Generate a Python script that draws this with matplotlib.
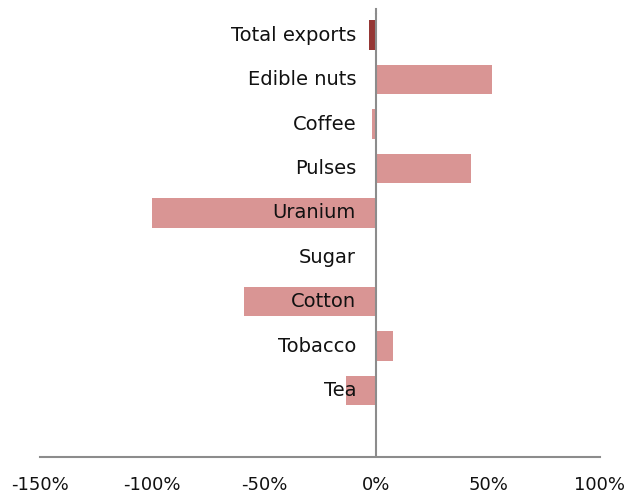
import matplotlib
matplotlib.use("Agg")
import matplotlib.pyplot as plt
import matplotlib.ticker as mticker

categories = ["Total exports", "Edible nuts", "Coffee", "Pulses", "Uranium",
              "Sugar", "Cotton", "Tobacco", "Tea"]
values = [-3.0, 52.0, -2.0, 42.5, -100.0, 0.0, -59.0, 7.7, -13.5]
colors = ["#953735"] + ["#D99594"] * 8
xticks = [-150, -100, -50, 0, 50, 100]

plt.rcParams['font.family'] = ['DejaVu Sans']

fig = plt.figure(figsize=(6.26, 4.94), dpi=100)
ax = fig.add_axes([40/626, 1-457/494, 560/626, 444/494])

n = len(categories) + 1
ypos = list(range(len(categories)))
ax.barh(ypos, values, height=0.67, color=colors, zorder=2)
ax.set_ylim(n - 0.5, -0.5)
ax.set_xlim(-150, 100)

ax.plot([0, 0], [1, 1.008], transform=ax.get_xaxis_transform(), color="#8C8C8C",
        lw=1.5, clip_on=False, zorder=3)
ax.axvline(0, color="#8C8C8C", lw=1.5, zorder=3)
for s in ["top", "right", "left"]:
    ax.spines[s].set_visible(False)
ax.spines["bottom"].set_color("#8C8C8C")
ax.spines["bottom"].set_linewidth(1.5)
ax.set_yticks([])
ax.set_xticks(xticks)
ax.xaxis.set_major_formatter(mticker.FuncFormatter(lambda v, p: f"{int(v)}%"))
ax.tick_params(axis="x", length=0, pad=14, labelsize=13, labelcolor="#111111")

for y, lab in zip(ypos, categories):
    ax.annotate(lab, xy=(0, y), xytext=(-20 * 72 / 100, 0), textcoords="offset points",
                ha="right", va="center", fontsize=14, color="#111111", zorder=5)

fig.savefig("out.png", dpi=100)
